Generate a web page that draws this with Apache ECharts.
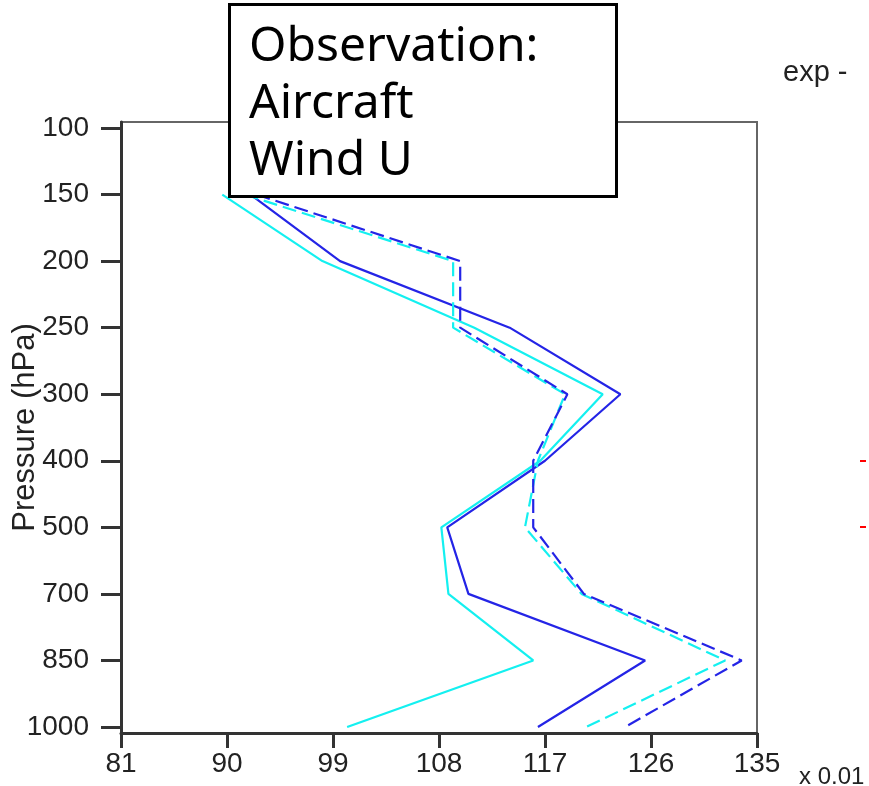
<!DOCTYPE html>
<html>
<head>
<meta charset="utf-8">
<script src="https://cdn.jsdelivr.net/npm/echarts@6/dist/echarts.min.js"></script>
<style>
html,body{margin:0;padding:0;background:#fff;}
#chart{width:869px;height:786px;}
</style>
</head>
<body>
<div id="chart"></div>
<script>
// Pressure levels (category axis, top to bottom)
const pressureLabels = ['100','150','200','250','300','400','500','700','850','1000'];
const dataLevels = ['150','200','250','300','400','500','700','850','1000'];
// x tick labels
const xTicks = [81, 90, 99, 108, 117, 126, 135];
// Series values (x 0.01)
const blueSolid  = [92.0, 99.6, 114.0, 123.4, 117.0, 108.7, 110.5, 125.5, 116.4];
const cyanSolid  = [89.6, 98.1, 111.0, 121.9, 116.6, 108.2, 108.8, 116.0, 100.2];
const blueDashed = [92.5, 109.8, 109.8, 118.9, 116.0, 116.0, 120.3, 133.7, 123.8];
const cyanDashed = [91.5, 109.2, 109.2, 118.7, 116.4, 115.3, 120.1, 132.3, 120.5];

const BLUE = '#2424e6';
const CYAN = '#14f0f0';

function pairs(vals){ return vals.map((v,i)=>[v, dataLevels[i]]); }

const chart = echarts.init(document.getElementById('chart'), null, {renderer:'canvas'});
const labelFont = {fontFamily:'Liberation Sans, Arial, sans-serif', fontSize:28, color:'#222'};

chart.setOption({
  animation:false,
  backgroundColor:'#fff',
  grid:[
    {left:121, right:112, top:128, bottom:59, show:false},
    {left:121, right:112, top:122, bottom:53, show:true, borderColor:'#666', borderWidth:2, backgroundColor:'transparent'}
  ],
  xAxis:[
    {gridIndex:0, type:'value', min:xTicks[0], max:xTicks[xTicks.length-1], interval:9, show:false},
    {gridIndex:1, type:'value', min:xTicks[0], max:xTicks[xTicks.length-1], interval:9,
     axisLine:{show:true, lineStyle:{color:'#333', width:3}},
     axisTick:{show:true, inside:false, length:15, lineStyle:{color:'#333', width:3}},
     axisLabel:Object.assign({margin:17}, labelFont),
     splitLine:{show:false}}
  ],
  yAxis:[
    {gridIndex:0, type:'category', data:pressureLabels, boundaryGap:false, inverse:true,
     axisLine:{show:false},
     axisTick:{show:true, length:20, alignWithLabel:true, lineStyle:{color:'#333', width:3}},
     axisLabel:Object.assign({margin:32, interval:0}, labelFont),
     splitLine:{show:false}},
    {gridIndex:1, type:'value', min:0, max:1,
     axisLine:{show:true, lineStyle:{color:'#333', width:3}},
     axisTick:{show:false}, axisLabel:{show:false}, splitLine:{show:false},
     name:'Pressure (hPa)', nameLocation:'middle', nameGap:80, nameRotate:90,
     nameTextStyle:{fontFamily:'Liberation Sans, Arial, sans-serif', fontSize:31, color:'#222'}}
  ],
  series:[
    {type:'line', xAxisIndex:0, yAxisIndex:0, data:pairs(cyanSolid), symbol:'none',
     lineStyle:{color:CYAN, width:2.2}},
    {type:'line', xAxisIndex:0, yAxisIndex:0, data:pairs(blueSolid), symbol:'none',
     lineStyle:{color:BLUE, width:2.2}},
    {type:'line', xAxisIndex:0, yAxisIndex:0, data:pairs(cyanDashed), symbol:'none',
     lineStyle:{color:CYAN, width:2.2, type:[14,6]}},
    {type:'line', xAxisIndex:0, yAxisIndex:0, data:pairs(blueDashed), symbol:'none',
     lineStyle:{color:BLUE, width:2.2, type:[14,6]}}
  ],
  graphic:[
    {type:'rect', z:100, shape:{x:229.5, y:4.5, width:387, height:192},
     style:{fill:'#fff', stroke:'#000', lineWidth:3}},
    {type:'text', z:101, left:249, top:19,
     style:{text:'Observation:\nAircraft\nWind U', fill:'#000',
            font:'48px "Noto Sans", "Open Sans", sans-serif', lineHeight:57}},
    {type:'text', z:101, left:783, top:58,
     style:{text:'exp -', fill:'#222', font:'29px "Liberation Sans", Arial, sans-serif'}},
    {type:'text', z:101, left:799, top:765,
     style:{text:'x 0.01', fill:'#222', font:'24px "Liberation Sans", Arial, sans-serif'}},
    {type:'line', z:101, shape:{x1:860, y1:461, x2:866, y2:461}, style:{stroke:'#f00', lineWidth:2}},
    {type:'line', z:101, shape:{x1:860, y1:527, x2:866, y2:527}, style:{stroke:'#f00', lineWidth:2}}
  ]
});
</script>
</body>
</html>
